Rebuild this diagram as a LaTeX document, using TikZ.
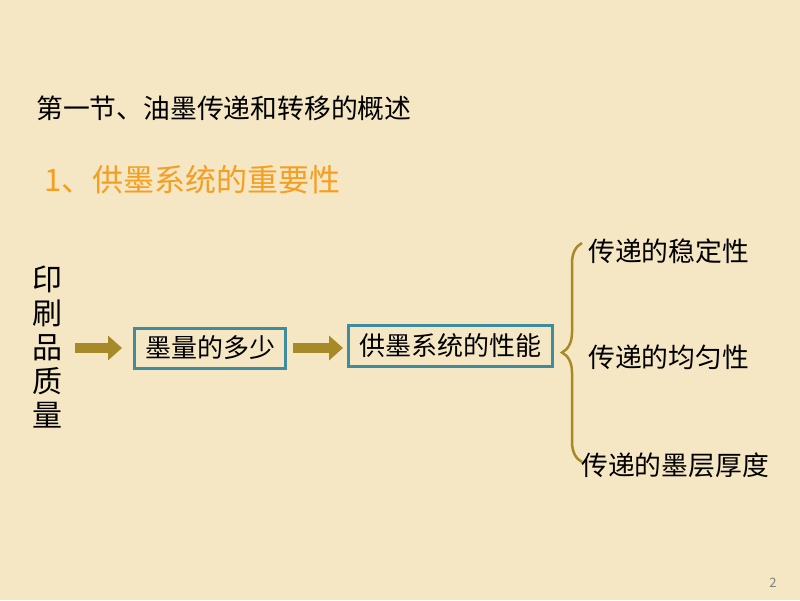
\documentclass[tikz,border=0pt]{standalone}
\usepackage{fontspec}
\setmainfont{Noto Sans CJK SC}
\usetikzlibrary{arrows.meta,decorations.pathreplacing}

\definecolor{slidebg}{RGB}{245,230,196}
\definecolor{headorange}{RGB}{245,158,32}
\definecolor{arrowgold}{RGB}{166,138,40}
\definecolor{boxteal}{RGB}{62,140,158}

\begin{document}
\begin{tikzpicture}[x=1pt,y=-1pt,
	txt/.style={inner sep=0pt, font=\fontsize{26.8}{28}\selectfont},
	inkbox/.style={draw=boxteal, line width=3pt, inner sep=0pt, font=\fontsize{26}{28}\selectfont},
	bigarrow/.style={draw=arrowgold, line width=10pt, -{Triangle[length=14pt,width=24pt]}},
	bracket/.style={draw=arrowgold, line width=2.5pt, decorate, decoration={brace,amplitude=20pt}}]
	\fill[slidebg] (0,0) rectangle (800,600);
	\useasboundingbox (0,0) rectangle (800,600);
	\node[txt, anchor=west] (title) at (36,108) {第一节、油墨传递和转移的概述};
	\node[txt, anchor=west, text=headorange, font=\fontsize{31}{33}\selectfont] (head) at (44,180) {1、供墨系统的重要性};
	\node[txt, align=center, font=\fontsize{30}{34}\selectfont] (quality) at (47,347) {印\\刷\\品\\质\\量};
	\node[inkbox, minimum width=151pt, minimum height=40pt] (amount) at (210,348) {墨量的多少};
	\node[inkbox, minimum width=204pt, minimum height=41pt] (system) at (450.5,346) {供墨系统的性能};
	\draw[bigarrow, shorten <=13pt, shorten >=11pt] (quality.east |- amount.west) -- (amount.west);
	\draw[bigarrow, shorten <=6pt, shorten >=4pt] (amount.east) -- (system.west |- amount.east);
	\coordinate (braceTop) at (582,243);
	\coordinate (braceBot) at (582,462);
	\draw[bracket] (braceBot) -- (braceTop);
	\node[txt, anchor=west] (stable) at (588,251) {传递的稳定性};
	\node[txt, anchor=west] (even) at (588,357) {传递的均匀性};
	\node[txt, anchor=west] (thick) at (581,465) {传递的墨层厚度};
	\node[text=gray, font=\fontsize{13}{14}\selectfont] (page) at (773,583) {2};
\end{tikzpicture}
\end{document}
